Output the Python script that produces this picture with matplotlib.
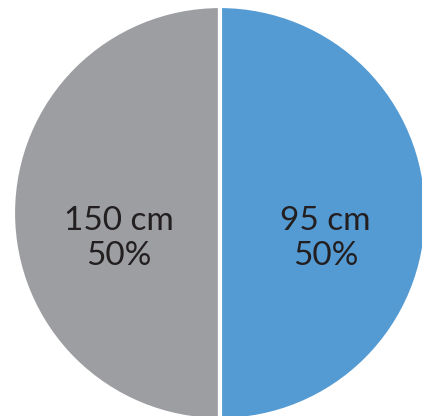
import matplotlib
matplotlib.use("Agg")
from matplotlib import pyplot as plt

# data
categories = ["150 cm", "95 cm"]
counts = [1, 1]
colors = ["#9D9EA2", "#559BD3"]

W, H = 422, 416
fig = plt.figure(figsize=(W / 100, H / 100), dpi=100)

# pie center ~ (220, 213) px from top-left, radius ~207 px
r = 207
cx, cy = 220, 213
ax = fig.add_axes([(cx - r) / W, (H - cy - r) / H, 2 * r / W, 2 * r / H])

wedges, texts, autotexts = ax.pie(
    counts,
    colors=colors,
    startangle=90,
    radius=1,
    autopct="%1.0f%%",
    pctdistance=0.5,
    wedgeprops=dict(edgecolor="white", linewidth=3),
    textprops=dict(color="#231F20", fontsize=24, family="Lato"),
)
for cat, t in zip(categories, autotexts):
    t.set_text(cat + "\n" + t.get_text())
    t.set_linespacing(1.2)
    x, y = t.get_position()
    t.set_position((x + 0.01, y - 0.125))

ax.set_xlim(-1, 1)
ax.set_ylim(-1, 1)
ax.set_aspect("auto")
ax.axis("off")

fig.savefig("out.png", dpi=100)
